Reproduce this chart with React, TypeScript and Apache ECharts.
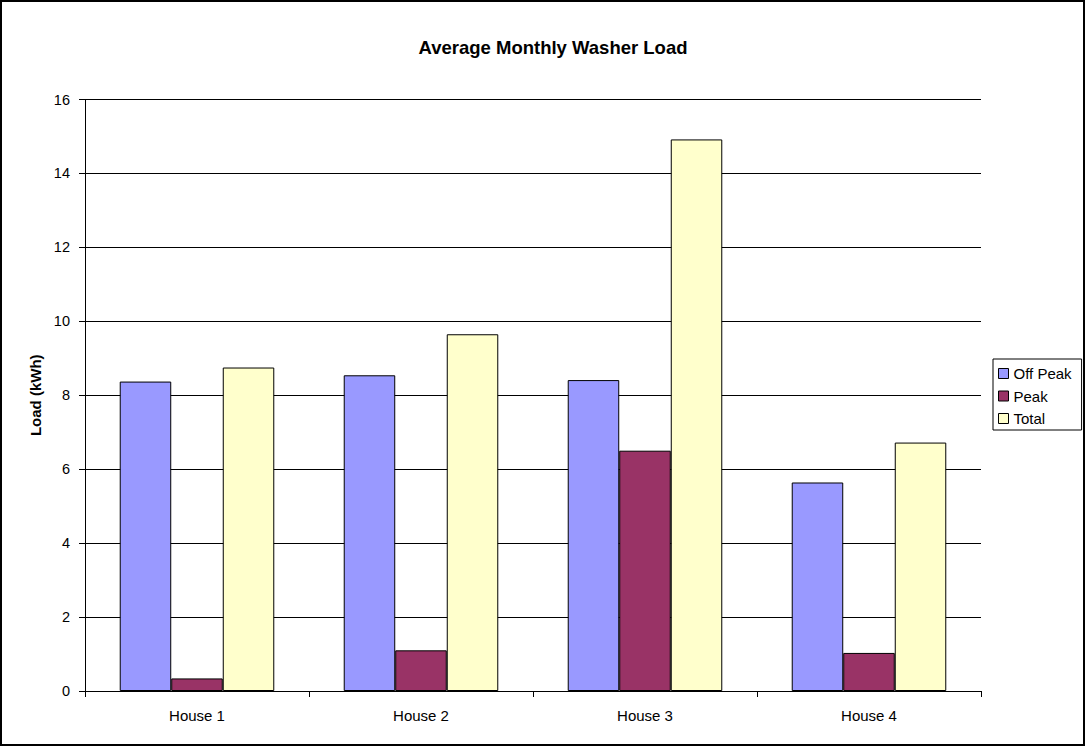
import React, { useEffect, useRef } from "react";
import * as echarts from "echarts";

const categories = ["House 1", "House 2", "House 3", "House 4"];
const offPeak = [8.37, 8.54, 8.41, 5.64];
const peak = [0.34, 1.1, 6.5, 1.03];
const total = [8.75, 9.65, 14.92, 6.72];
const seriesNames = ["Off Peak", "Peak", "Total"];
const colors = ["#9999FF", "#993366", "#FFFFCC"];

export default function App() {
  const ref = useRef<HTMLDivElement>(null);
  useEffect(() => {
    document.body.style.margin = "0";
    const chart = echarts.init(ref.current!, null, { renderer: "svg" });
    const font = "Arial, 'Liberation Sans', sans-serif";
    const data = [offPeak, peak, total];
    chart.setOption({
      animation: false,
      backgroundColor: "#ffffff",
      title: {
        text: "Average Monthly Washer Load",
        left: 548,
        textAlign: "center",
        top: 33,
        textStyle: { fontFamily: font, fontSize: 18.5, fontWeight: "bold", color: "#000" },
      },
      graphic: [
        {
          type: "rect",
          shape: { x: 1, y: 1, width: 1083, height: 744 },
          style: { fill: "none", stroke: "#000", lineWidth: 2 },
          silent: true,
        },
      ],
      legend: {
        orient: "vertical",
        left: 993,
        top: 359,
        data: seriesNames,
        icon: "rect",
        itemWidth: 10,
        itemHeight: 10,
        itemGap: 7.5,
        padding: [7, 10, 4, 5],
        borderColor: "#000",
        borderWidth: 1,
        borderRadius: 0,
        textStyle: { fontFamily: font, fontSize: 15, color: "#000" },
        itemStyle: { borderColor: "#000", borderWidth: 1 },
      },
      grid: { left: 85, right: 105, top: 99.5, bottom: 56, containLabel: false },
      xAxis: {
        type: "category",
        data: categories,
        axisLine: { lineStyle: { color: "#000", width: 1 } },
        axisTick: { show: true, length: 6, lineStyle: { color: "#000" }, alignWithLabel: false },
        axisLabel: { fontFamily: font, fontSize: 15, color: "#000", margin: 17 },
        splitLine: { show: false },
      },
      yAxis: {
        type: "value",
        min: 0,
        max: 16,
        interval: 2,
        name: "Load (kWh)",
        nameLocation: "middle",
        nameGap: 38,
        nameTextStyle: { fontFamily: font, fontSize: 15, fontWeight: "bold", color: "#000" },
        axisLine: { show: true, lineStyle: { color: "#000", width: 1 } },
        axisTick: { show: true, length: 6, lineStyle: { color: "#000" } },
        axisLabel: { fontFamily: font, fontSize: 14.5, color: "#000", margin: 15 },
        splitLine: { show: true, lineStyle: { color: "#000", width: 1 } },
      },
      series: seriesNames.map((name, i) => ({
        name,
        type: "bar",
        data: data[i],
        barGap: "0%",
        barCategoryGap: "31%",
        itemStyle: { color: colors[i], borderColor: "#000", borderWidth: 1 },
      })),
    });
    return () => chart.dispose();
  }, []);
  return (
    <div
      ref={ref}
      style={{ position: "absolute", left: 0, top: 0, width: 1086, height: 747 }}
    />
  );
}
